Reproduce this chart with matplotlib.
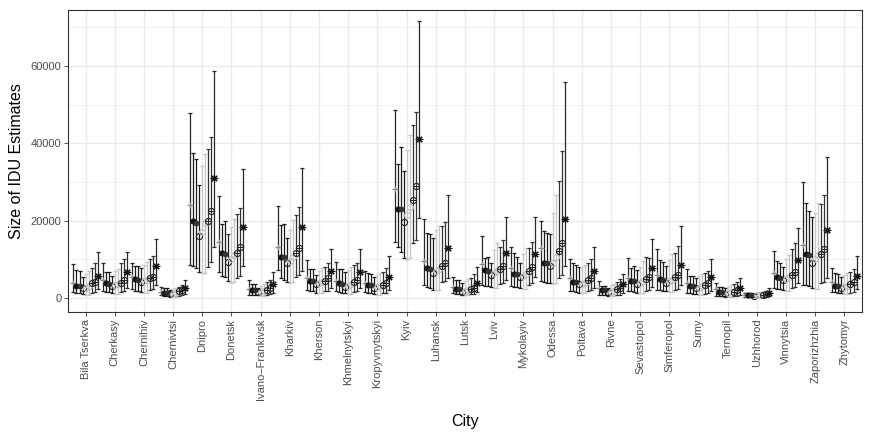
import matplotlib
matplotlib.use('Agg')
import matplotlib.pyplot as plt
import numpy as np

cities = ["Bila Tserkva", "Cherkasy", "Chernihiv", "Chernivtsi", "Dnipro", "Donetsk",
          "Ivano\u2013Frankivsk", "Kharkiv", "Kherson", "Khmelnytskyi", "Kropyvnytskyi",
          "Kyiv", "Luhansk", "Lutsk", "Lviv", "Mykolayiv", "Odessa", "Poltava", "Rivne",
          "Sevastopol", "Simferopol", "Sumy", "Ternopil", "Uzhhorod", "Vinnytsia",
          "Zaporizhzhia", "Zhytomyr"]

# point estimates, one row per city, 9 estimation methods per row
EST = [
    [3800, 3190, 3100, 2500, 2700, 3000, 3800, 4220, 5770],
    [4660, 3800, 3700, 3190, 3300, 3600, 3960, 4660, 6640],
    [5510, 4830, 4700, 4050, 4300, 4700, 5250, 5510, 8280],
    [1550, 1400, 1350, 1035, 1150, 1300, 1810, 2070, 2500],
    [24060, 19900, 19300, 16040, 17150, 19300, 19900, 22600, 31040],
    [14400, 11720, 11500, 9310, 10000, 11000, 11720, 13270, 18450],
    [2250, 2070, 2000, 1470, 1600, 1850, 2070, 2500, 3540],
    [13270, 10690, 10690, 8970, 9500, 10500, 11560, 13010, 18290],
    [5100, 4400, 4300, 3540, 3800, 4100, 4480, 5100, 6990],
    [4400, 3800, 3700, 2920, 3200, 3500, 4050, 4660, 6810],
    [3800, 3360, 3300, 2500, 2800, 3100, 3360, 3960, 5510],
    [28200, 22950, 22950, 19580, 21470, 23620, 25350, 29050, 41130],
    [9650, 7840, 7600, 6380, 6900, 7600, 8280, 9130, 12860],
    [2770, 2250, 2200, 1630, 1800, 2000, 2330, 2660, 3960],
    [8720, 7240, 7100, 5950, 6400, 7000, 7500, 8360, 11560],
    [7680, 6210, 6100, 5350, 5700, 6300, 6990, 8100, 11380],
    [13000, 9130, 9000, 8280, 9000, 10500, 12240, 14300, 20360],
    [5100, 4220, 4100, 3500, 3700, 4000, 4660, 5200, 6990],
    [2500, 2070, 2000, 1470, 1650, 1850, 2200, 2660, 3540],
    [5100, 4400, 4300, 3540, 3900, 4300, 4830, 5510, 7840],
    [5950, 4830, 4700, 3960, 4300, 4700, 5350, 5950, 8540],
    [3800, 3100, 3000, 2500, 2700, 3000, 3360, 3800, 5350],
    [2250, 1630, 1600, 1035, 1200, 1450, 1630, 2070, 2660],
    [900, 780, 760, 600, 650, 720, 800, 950, 1370],
    [6380, 5350, 5200, 4660, 5000, 5500, 5950, 6810, 9830],
    [13710, 11380, 11000, 8970, 10000, 11000, 11380, 12680, 17590],
    [4220, 3100, 3000, 2660, 2800, 3100, 3620, 4220, 5770],
]

LO = [
    [1500, 1300, 1200, 1000, 800, 800, 1300, 1500, 2200],
    [1800, 1600, 1500, 1300, 1100, 1100, 1500, 1800, 2600],
    [2200, 1900, 1800, 1600, 1400, 1400, 2000, 2300, 3300],
    [700, 600, 550, 450, 350, 350, 600, 700, 1000],
    [8540, 8360, 7840, 6730, 6380, 6380, 7940, 9400, 13270],
    [6730, 5690, 5500, 4480, 4000, 4200, 5100, 5690, 8280],
    [900, 850, 800, 650, 550, 550, 800, 950, 1300],
    [7240, 5250, 4660, 4220, 4000, 4100, 5350, 5950, 7060],
    [2070, 1800, 1700, 1400, 1200, 1200, 1700, 1900, 2600],
    [1700, 1500, 1400, 1200, 1000, 1000, 1500, 1700, 2500],
    [1500, 1300, 1200, 1000, 800, 800, 1200, 1400, 2000],
    [14570, 13270, 11980, 10270, 9830, 10270, 14150, 15000, 20620],
    [3360, 2920, 2700, 2070, 2000, 2000, 4220, 4400, 5100],
    [1200, 1100, 1000, 800, 650, 650, 1000, 1100, 1500],
    [3360, 3200, 3100, 2920, 2500, 2500, 3600, 4000, 4660],
    [3100, 2900, 2800, 2500, 2200, 2200, 3300, 3800, 5510],
    [4500, 4220, 4000, 3800, 3500, 4000, 5100, 5950, 8280],
    [1800, 1700, 1600, 1400, 1200, 1200, 1700, 2000, 2700],
    [900, 800, 750, 600, 500, 500, 750, 900, 1300],
    [1810, 1700, 1600, 1400, 1200, 1200, 1800, 2000, 2800],
    [2070, 2000, 1900, 1700, 1500, 1500, 2100, 2400, 3300],
    [1300, 1200, 1100, 950, 800, 800, 1100, 1300, 1800],
    [600, 550, 500, 400, 300, 300, 500, 600, 900],
    [250, 230, 220, 180, 150, 150, 220, 260, 400],
    [2500, 2400, 2300, 2000, 1800, 1800, 2500, 2800, 3800],
    [3360, 3300, 3100, 2500, 2300, 2400, 3800, 4200, 5100],
    [1630, 1500, 1400, 1200, 1000, 1000, 1400, 1600, 2200],
]

HI = [
    [8720, 7240, 7000, 5510, 6200, 7000, 7680, 8970, 11980],
    [8970, 6600, 6600, 5770, 6900, 7500, 9130, 10000, 11800],
    [8970, 8280, 8280, 7840, 8600, 9400, 10000, 10950, 15260],
    [2900, 2500, 2500, 2000, 2400, 2700, 2920, 3360, 4660],
    [47800, 37600, 35960, 29150, 34150, 37170, 38550, 41730, 58640],
    [26390, 19140, 20000, 16470, 18450, 20440, 21650, 23200, 33290],
    [4660, 3540, 3500, 2500, 3100, 3600, 4220, 4660, 6640],
    [23880, 18890, 19140, 15600, 17590, 20180, 21470, 23460, 33550],
    [9830, 7500, 7500, 5950, 7000, 7800, 8100, 8970, 12680],
    [9400, 7500, 7500, 6810, 7300, 8000, 8540, 9130, 12680],
    [6990, 6380, 6300, 5510, 6000, 6500, 6810, 7680, 10950],
    [48640, 34580, 39150, 32850, 38290, 42170, 44760, 48200, 71580],
    [20360, 16900, 16560, 15440, 17590, 18630, 18630, 19740, 26650],
    [5510, 4660, 4600, 3800, 4300, 4800, 5100, 6130, 7940],
    [16120, 10270, 10500, 8970, 12420, 14150, 13100, 15000, 21030],
    [13270, 11560, 10530, 9130, 11500, 13000, 12860, 14570, 20880],
    [20000, 17330, 16900, 16560, 21900, 26650, 30350, 38100, 55800],
    [10000, 8970, 8540, 8100, 8000, 8600, 9130, 10200, 13100],
    [4480, 3100, 3100, 2500, 3300, 3700, 4220, 4830, 6210],
    [10430, 7840, 8280, 7240, 8000, 9500, 10690, 10430, 15170],
    [12600, 9830, 9440, 8280, 9900, 11300, 11560, 13450, 18630],
    [7420, 5690, 5690, 5100, 5800, 6300, 6380, 6990, 10000],
    [3960, 2920, 2920, 2500, 2900, 3300, 3620, 4220, 5250],
    [1370, 1200, 1200, 1100, 1300, 1500, 1600, 1900, 2660],
    [12240, 9650, 9130, 7940, 10000, 11000, 12600, 14300, 18030],
    [30090, 24650, 22590, 20880, 22000, 24650, 24230, 26650, 36480],
    [7680, 6380, 6200, 5350, 6000, 6500, 6640, 7420, 10870],
]

y_ticks = [0, 20000, 40000, 60000]

plt.rcParams['font.family'] = ['Liberation Sans', 'DejaVu Sans']

est = np.array(EST, dtype=float)
lo = np.array(LO, dtype=float)
hi = np.array(HI, dtype=float)
n_city, n_meth = est.shape

W, H = 871, 436
fig = plt.figure(figsize=(W / 100, H / 100), dpi=100)
ax = fig.add_axes([68 / W, 1 - 312 / H, (862 - 68) / W, (312 - 10) / H])

x = np.arange(1, n_city + 1)
offsets = (np.arange(n_meth) - (n_meth - 1) / 2) * 0.103

bar_colors = ['#262626', '#1a1a1a', '#1a1a1a', '#1a1a1a', '#c8c8c8', '#c4c4c4',
              '#333333', '#333333', '#2a2a2a']

for j in range(n_meth):
    xs = x + offsets[j]
    ax.errorbar(xs, est[:, j], yerr=[est[:, j] - lo[:, j], hi[:, j] - est[:, j]],
                fmt='none', ecolor=bar_colors[j], elinewidth=0.9, capsize=1.6,
                capthick=0.9, zorder=3)

def pts(j, **kw):
    ax.plot(x + offsets[j], est[:, j], linestyle='none', zorder=4, **kw)

pts(0, marker='+', color='#8a8a8a', ms=5, mew=0.9)
pts(1, marker='o', color='#111111', ms=3.8, mew=0.6)
pts(2, marker='o', color='#333333', ms=3.6, mew=0.6)
pts(3, marker='o', mfc='none', mec='#222222', ms=4.4, mew=0.8)
pts(4, marker='o', mfc='none', mec='#bdbdbd', ms=4.2, mew=0.8)
pts(5, marker='o', mfc='none', mec='#bdbdbd', ms=4.2, mew=0.8)
pts(6, marker='o', mfc='none', mec='#222222', ms=4.4, mew=0.8)
pts(6, marker='+', color='#222222', ms=4.4, mew=0.7)
pts(7, marker='o', mfc='none', mec='#222222', ms=4.4, mew=0.8)
pts(7, marker='_', color='#222222', ms=4.4, mew=0.7)
pts(8, marker=(8, 2, 0), color='#111111', ms=5.4, mew=0.8)

ax.set_xlim(0.4, n_city + 0.6)
ax.set_ylim(-3622, 74506)
ax.set_xticks(x)
ax.set_xticklabels(cities, rotation=90, fontsize=8.0, color='#4d4d4d')
ax.set_yticks(y_ticks)
ax.set_yticklabels([str(v) for v in y_ticks], fontsize=8.0, color='#4d4d4d')
ax.set_yticks([10000, 30000, 50000, 70000], minor=True)
ax.tick_params(axis='both', which='major', length=2.8, width=0.6, color='#333333', pad=2)
ax.tick_params(axis='y', which='minor', length=0)

ax.grid(True, which='major', color='#ebebeb', linewidth=1.0, zorder=0)
ax.grid(True, which='minor', axis='y', color='#ebebeb', linewidth=0.5, zorder=0)
ax.set_axisbelow(True)
for s in ax.spines.values():
    s.set_color('#333333')
    s.set_linewidth(0.8)

ax.set_xlabel('City', fontsize=11.5, labelpad=10)
ax.set_ylabel('Size of IDU Estimates', fontsize=11.5, labelpad=5)

fig.savefig('out.png', dpi=100, facecolor='white')
